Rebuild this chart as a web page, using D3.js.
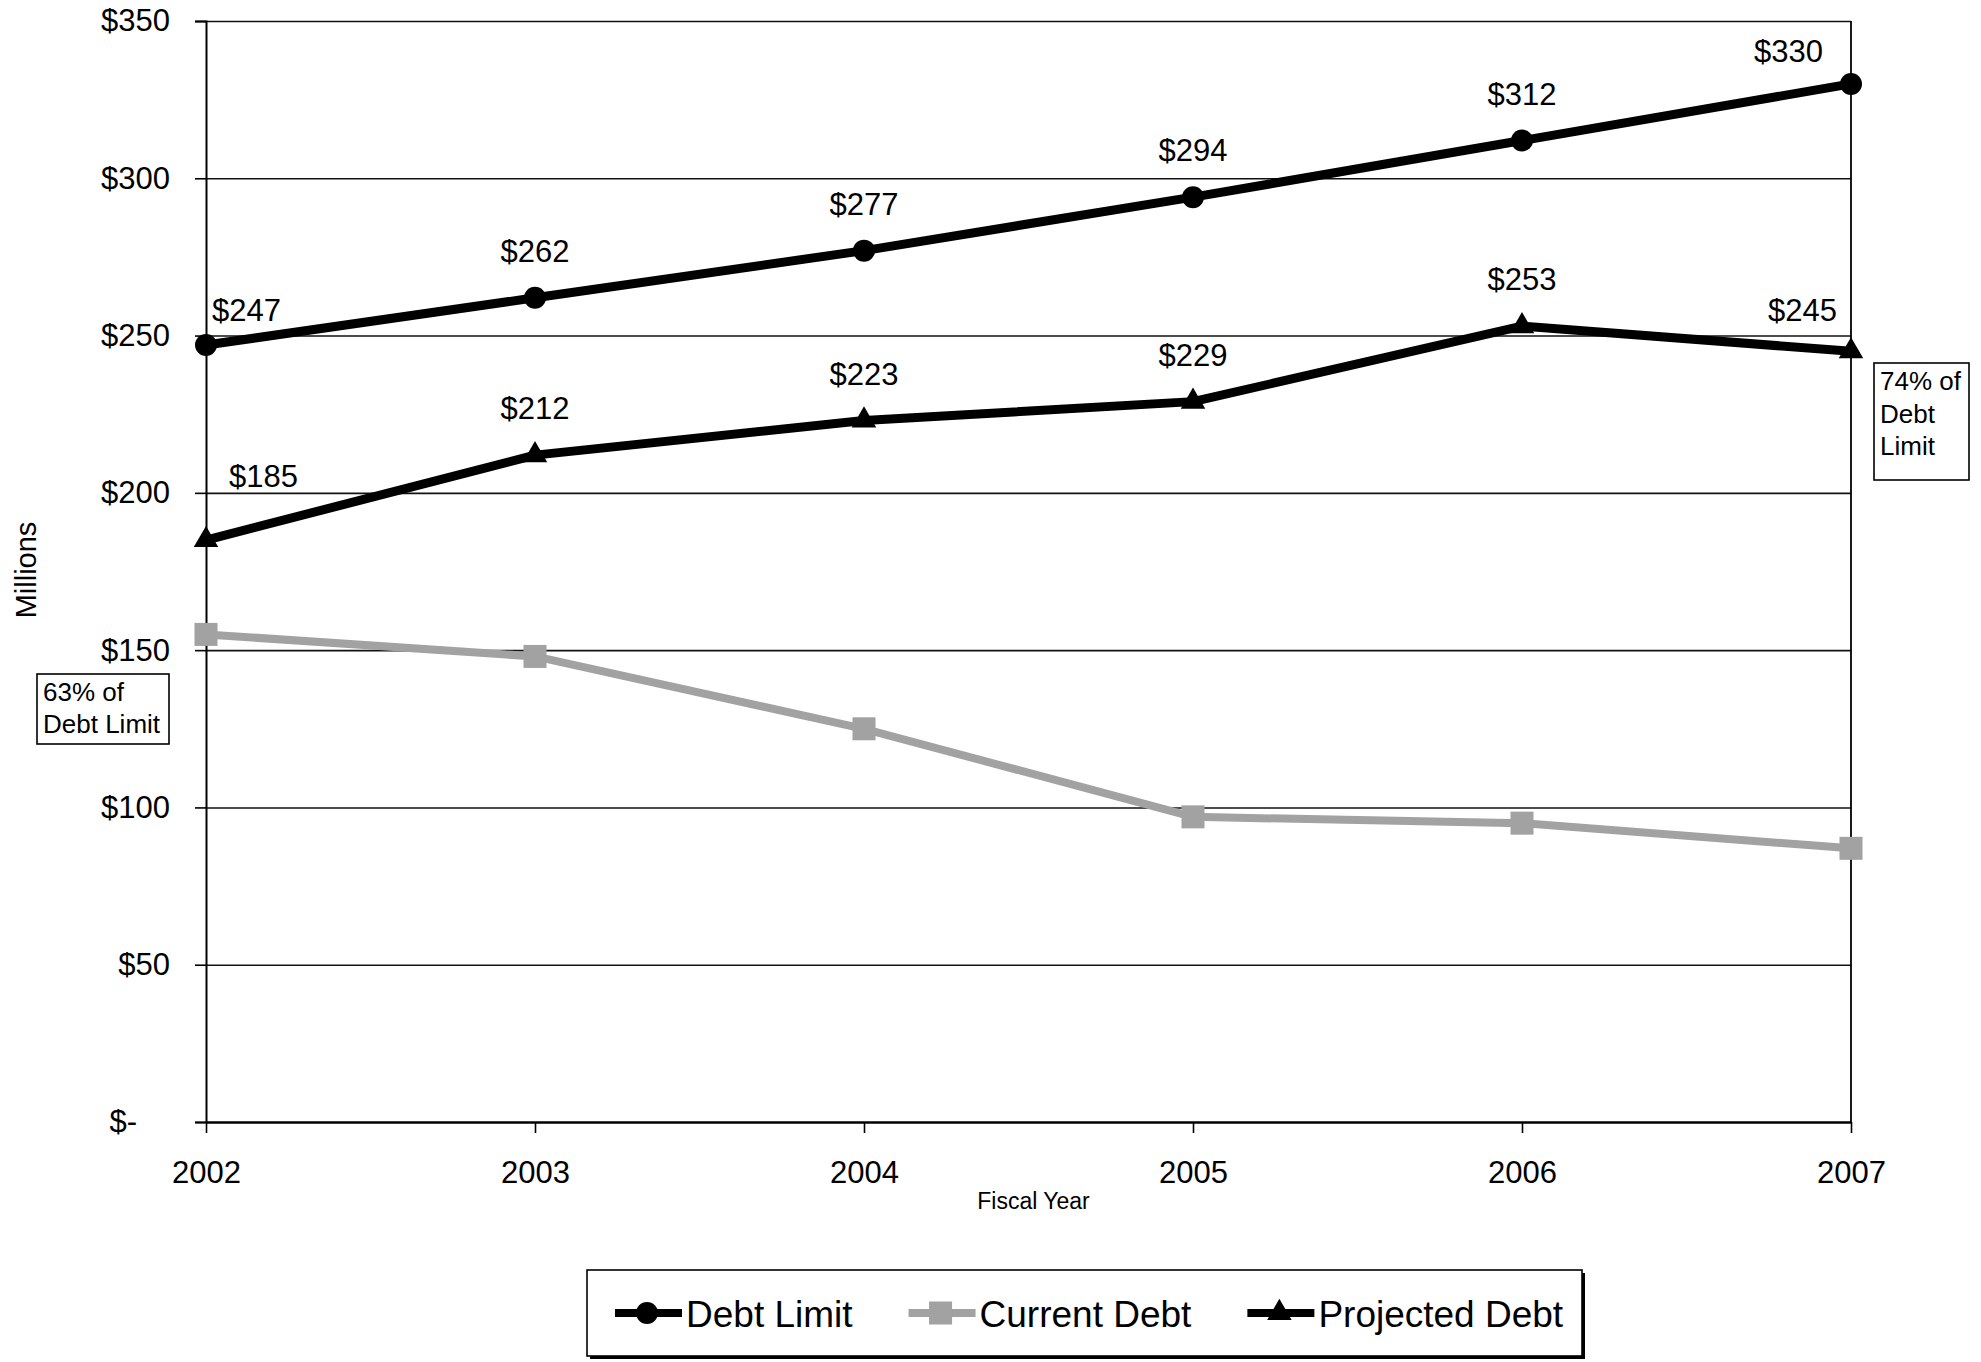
<!DOCTYPE html>
<html>
<head>
<meta charset="utf-8">
<script src="https://cdn.jsdelivr.net/npm/d3@7"></script>
<style>
  body { margin: 0; background: #fff; }
  svg { display: block; }
  text { font-family: "Liberation Sans", Arial, sans-serif; fill: #000; }
</style>
</head>
<body>
<svg id="chart" width="1981" height="1362"></svg>
<script>
// Debt limit vs. current and projected debt, fiscal years 2002-2007 ($ millions)
const years = ["2002", "2003", "2004", "2005", "2006", "2007"];
const debtLimit = [247, 262, 277, 294, 312, 330];
const currentDebt = [155, 148, 125, 97, 95, 87];
const projectedDebt = [185, 212, 223, 229, 253, 245];
const yTicks = [0, 50, 100, 150, 200, 250, 300, 350];
const seriesNames = ["Debt Limit", "Current Debt", "Projected Debt"];
const leftNote = ["63% of", "Debt Limit"];
const rightNote = ["74% of", "Debt", "Limit"];

const svg = d3.select("#chart");
const plot = { left: 206, right: 1851, top: 21, bottom: 1122 };
const black = "#000";
const grey = "#a2a2a2";
const fontPx = 31;

const x = d3.scalePoint().domain(years).range([plot.left, plot.right]);
const y = d3.scaleLinear().domain([0, 350]).range([plot.bottom, plot.top]);

// horizontal gridlines
svg.append("g")
  .attr("transform", `translate(${plot.left},0)`)
  .call(d3.axisLeft(y).tickValues(yTicks.filter(d => d > 0))
    .tickSize(-(plot.right - plot.left)).tickFormat(""))
  .call(g => g.select(".domain").remove())
  .call(g => g.selectAll(".tick line").attr("stroke", "#111").attr("stroke-width", 1.6));

// y axis with ticks and dollar labels
const yAxis = svg.append("g")
  .attr("transform", `translate(${plot.left},0)`)
  .call(d3.axisLeft(y).tickValues(yTicks).tickSize(11).tickPadding(25)
    .tickFormat(d => d === 0 ? "$-" : "$" + d));
yAxis.select(".domain").attr("stroke", black).attr("stroke-width", 2);
yAxis.selectAll(".tick line").attr("stroke", black).attr("stroke-width", 1.6);
yAxis.selectAll(".tick text")
  .attr("font-size", fontPx).attr("font-family", "Liberation Sans, Arial, sans-serif")
  .attr("fill", black)
  .attr("x", d => d === 0 ? -69 : -36);

// x axis
const xAxis = svg.append("g")
  .attr("transform", `translate(0,${plot.bottom})`)
  .call(d3.axisBottom(x).tickSize(11).tickPadding(28).tickSizeOuter(0));
xAxis.select(".domain").attr("stroke", black).attr("stroke-width", 2.4);
xAxis.selectAll(".tick line").attr("stroke", black).attr("stroke-width", 1.6);
xAxis.selectAll(".tick text")
  .attr("font-size", fontPx).attr("font-family", "Liberation Sans, Arial, sans-serif")
  .attr("fill", black);

// right border of the plot area
svg.append("line")
  .attr("x1", plot.right).attr("x2", plot.right)
  .attr("y1", plot.top).attr("y2", plot.bottom)
  .attr("stroke", black).attr("stroke-width", 1.8);

// axis titles
svg.append("text")
  .attr("x", (plot.left + plot.right) / 2 + 5).attr("y", 1209)
  .attr("text-anchor", "middle").attr("font-size", 23)
  .text("Fiscal Year");
svg.append("text")
  .attr("transform", "translate(36,570) rotate(-90)")
  .attr("text-anchor", "middle").attr("font-size", 29)
  .text("Millions");

// series lines
const line = d3.line().x((d, i) => x(years[i])).y(d => y(d));
const series = [
  { name: seriesNames[0], values: debtLimit, color: black, shape: "circle" },
  { name: seriesNames[1], values: currentDebt, color: grey, shape: "square" },
  { name: seriesNames[2], values: projectedDebt, color: black, shape: "triangle" }
];

function drawMarker(g, shape, color) {
  if (shape === "circle") {
    g.append("circle").attr("r", 11).attr("fill", color);
  } else if (shape === "square") {
    g.append("rect").attr("x", -11.5).attr("y", -11.5).attr("width", 23).attr("height", 23)
      .attr("fill", color);
  } else {
    g.append("path").attr("d", d3.symbol(d3.symbolTriangle, 260)()).attr("fill", color);
  }
}

// current debt first so the dark series sit on top
[series[1], series[0], series[2]].forEach(s => {
  svg.append("path")
    .attr("d", line(s.values))
    .attr("fill", "none")
    .attr("stroke", s.color)
    .attr("stroke-width", s.shape === "square" ? 8 : 9)
    .attr("stroke-linejoin", "round");
  s.values.forEach((v, i) => {
    const g = svg.append("g").attr("transform", `translate(${x(years[i])},${y(v)})`);
    drawMarker(g, s.shape, s.color);
  });
});

// value labels above the dark series; end labels are nudged inside the plot
function labelSeries(values, firstDx, firstDy, lastDx, lastDy) {
  values.forEach((v, i) => {
    let dx = 0, dy = -36, anchor = "middle";
    if (i === 0) { dx = firstDx; dy = firstDy; anchor = "start"; }
    if (i === values.length - 1) { dx = lastDx; dy = lastDy; anchor = "end"; }
    svg.append("text")
      .attr("x", x(years[i]) + dx)
      .attr("y", y(v) + dy)
      .attr("text-anchor", anchor)
      .attr("font-size", fontPx)
      .text("$" + v);
  });
}
labelSeries(debtLimit, 6, -24, -28, -22);
labelSeries(projectedDebt, 23, -53, -14, -30);

// percentage notes
function noteBox(lines, bx, by, bw, bh, lineGap) {
  svg.append("rect").attr("x", bx).attr("y", by).attr("width", bw).attr("height", bh)
    .attr("fill", "#fff").attr("stroke", black).attr("stroke-width", 1.6);
  lines.forEach((t, i) => {
    svg.append("text").attr("x", bx + 6).attr("y", by + 27 + i * lineGap)
      .attr("font-size", 26).text(t);
  });
}
noteBox(leftNote, 37, 674, 132, 70, 32);
noteBox(rightNote, 1874, 363, 95, 117, 32.5);

// legend
const legend = svg.append("g");
legend.append("rect").attr("x", 590).attr("y", 1273).attr("width", 995).attr("height", 86)
  .attr("fill", black);
legend.append("rect").attr("x", 587).attr("y", 1270).attr("width", 995).attr("height", 86)
  .attr("fill", "#fff").attr("stroke", black).attr("stroke-width", 1.6);
let lx = 615;
const ly = 1313;
series.forEach(s => {
  legend.append("line").attr("x1", lx).attr("x2", lx + 67).attr("y1", ly).attr("y2", ly)
    .attr("stroke", s.color).attr("stroke-width", 8);
  const g = legend.append("g").attr("transform", `translate(${lx + 32},${ly})`);
  drawMarker(g, s.shape, s.color);
  const t = legend.append("text").attr("x", lx + 71).attr("y", ly + 14)
    .attr("font-size", 37).text(s.name);
  lx += 71 + t.node().getComputedTextLength() + 56;
});
</script>
</body>
</html>
